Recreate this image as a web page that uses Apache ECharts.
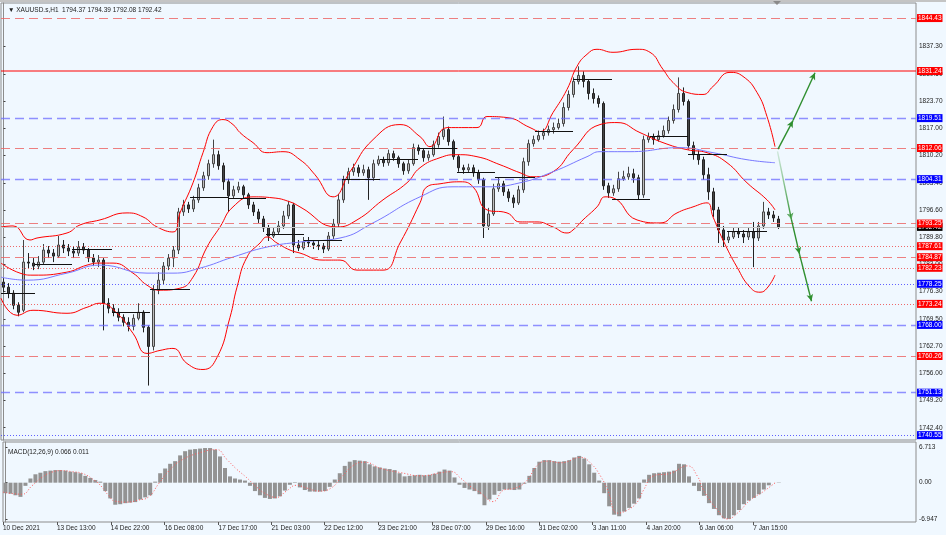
<!DOCTYPE html>
<html>
<head>
<meta charset="utf-8">
<title>XAUUSD.s H1</title>
<script src="https://cdn.jsdelivr.net/npm/echarts@6.0.0/dist/echarts.min.js"></script>
<style>
html, body { margin: 0; padding: 0; background: #f0f8ff; }
#chart { width: 946px; height: 535px; }
</style>
</head>
<body>
<div id="chart"></div>
<script>
// price bars, 3 hours each: [open, close, low, high]
var candles = [
[1778.65,1777.40,1776.15,1779.65],[1777.40,1775.90,1774.65,1778.40],[1775.90,1772.90,1771.90,1776.65],[1772.90,1771.15,1770.15,1773.65],
[1771.65,1783.65,1771.15,1789.15],[1783.65,1783.40,1782.15,1785.90],[1783.40,1782.65,1781.65,1784.65],[1782.65,1783.65,1781.90,1785.15],
[1783.65,1786.65,1783.15,1788.15],[1786.65,1785.90,1784.65,1787.65],[1785.90,1785.15,1783.65,1786.90],[1785.15,1787.90,1784.65,1790.15],
[1787.90,1787.15,1785.90,1789.15],[1787.15,1786.40,1785.15,1788.15],[1786.40,1785.90,1784.65,1787.65],[1785.90,1787.40,1785.15,1788.90],
[1787.40,1786.65,1785.65,1788.40],[1786.65,1784.65,1783.65,1787.15],[1784.65,1783.65,1782.65,1785.65],[1783.65,1784.15,1782.40,1785.40],
[1784.15,1773.40,1766.65,1784.65],[1773.40,1772.15,1770.90,1774.65],[1772.15,1771.15,1770.15,1773.15],[1771.15,1769.90,1768.90,1772.15],
[1769.90,1768.65,1767.65,1770.65],[1768.65,1767.65,1766.40,1769.90],[1767.65,1769.65,1766.65,1770.65],[1769.65,1771.15,1769.15,1773.40],
[1771.15,1767.40,1766.15,1771.65],[1767.40,1762.65,1752.90,1767.90],[1762.65,1776.65,1761.65,1777.90],[1776.65,1779.15,1775.65,1781.15],
[1779.15,1782.65,1778.15,1783.65],[1782.65,1784.65,1781.65,1785.65],[1784.65,1786.65,1782.40,1787.65],[1786.65,1796.15,1785.65,1797.15],
[1796.15,1797.90,1795.15,1799.15],[1797.90,1796.90,1795.90,1798.65],[1796.90,1799.15,1796.15,1800.15],[1799.15,1802.15,1798.40,1803.15],
[1802.15,1805.15,1801.40,1806.15],[1805.15,1808.15,1804.15,1809.15],[1808.15,1810.40,1807.15,1814.15],[1810.40,1807.65,1806.65,1811.40],
[1807.65,1803.65,1801.65,1808.40],[1803.65,1800.15,1796.15,1804.40],[1800.15,1801.65,1799.40,1802.65],[1801.65,1802.40,1800.90,1803.65],
[1802.40,1800.40,1799.40,1802.90],[1800.40,1797.90,1796.90,1800.90],[1797.90,1796.15,1795.15,1798.65],[1796.15,1794.40,1793.40,1796.90],
[1794.40,1792.15,1791.15,1795.15],[1792.15,1790.15,1788.90,1792.90],[1790.15,1791.15,1789.65,1792.15],[1791.15,1792.65,1790.40,1793.90],
[1792.65,1795.15,1791.90,1796.40],[1795.15,1797.90,1794.40,1798.90],[1797.90,1787.90,1785.90,1798.40],[1787.90,1787.15,1786.40,1789.15],
[1787.15,1788.65,1786.65,1789.90],[1788.65,1788.40,1787.40,1789.90],[1788.40,1787.90,1786.90,1789.15],[1787.90,1787.65,1786.65,1788.90],
[1787.65,1786.90,1785.90,1788.40],[1786.90,1790.15,1786.40,1791.15],[1790.15,1793.15,1789.40,1794.40],[1793.15,1799.15,1792.40,1800.65],
[1799.15,1804.15,1798.40,1805.15],[1804.15,1806.15,1803.15,1807.15],[1806.15,1807.15,1805.15,1808.15],[1807.15,1805.90,1804.90,1807.90],
[1805.90,1806.65,1805.15,1807.90],[1806.65,1804.65,1799.15,1807.40],[1804.65,1808.15,1803.90,1809.15],[1808.15,1809.15,1807.65,1810.15],
[1809.15,1808.40,1807.40,1809.90],[1808.40,1810.65,1807.65,1811.65],[1810.65,1809.65,1808.90,1811.40],[1809.65,1808.15,1807.15,1810.15],
[1808.15,1806.40,1805.40,1808.65],[1806.40,1808.15,1805.65,1809.15],[1808.15,1812.15,1807.65,1813.15],[1812.15,1811.40,1810.40,1812.90],
[1811.40,1809.65,1808.65,1811.90],[1809.65,1810.40,1808.90,1811.40],[1810.40,1812.90,1809.90,1813.90],[1812.90,1814.90,1812.15,1815.90],
[1814.90,1816.65,1814.15,1819.90],[1816.65,1813.65,1812.65,1817.40],[1813.65,1809.90,1809.15,1814.15],[1809.90,1807.15,1806.15,1810.40],
[1807.15,1806.65,1805.65,1807.90],[1806.65,1807.15,1805.90,1808.15],[1807.15,1805.90,1804.90,1807.90],[1805.90,1804.15,1803.15,1806.65],
[1804.15,1792.65,1789.65,1804.65],[1792.65,1795.65,1791.65,1797.15],[1795.65,1801.90,1795.15,1803.15],[1801.90,1803.15,1801.15,1804.65],
[1803.15,1801.15,1800.15,1803.90],[1801.15,1799.65,1798.65,1801.90],[1799.65,1798.40,1797.15,1800.40],[1798.40,1801.65,1797.90,1802.65],
[1801.65,1808.65,1800.90,1809.65],[1808.65,1813.15,1807.65,1814.15],[1813.15,1814.15,1812.40,1815.15],[1814.15,1815.15,1813.65,1816.40],
[1815.15,1815.90,1814.15,1816.90],[1815.90,1816.65,1815.15,1817.65],[1816.65,1817.15,1815.65,1818.40],[1817.15,1818.15,1816.65,1819.40],
[1818.15,1822.15,1817.40,1823.40],[1822.15,1825.40,1821.40,1826.40],[1825.40,1828.65,1824.65,1829.65],[1828.65,1830.15,1827.90,1832.40],
[1830.15,1828.65,1827.15,1831.15],[1828.65,1825.65,1824.15,1829.15],[1825.65,1824.40,1823.15,1826.90],[1824.40,1823.15,1822.15,1825.15],
[1823.15,1802.65,1801.65,1823.65],[1802.65,1800.90,1799.65,1803.40],[1800.90,1801.90,1800.15,1802.90],[1801.90,1804.40,1801.15,1806.15],
[1804.40,1804.90,1803.90,1806.40],[1804.90,1805.65,1804.15,1807.40],[1805.65,1804.65,1803.40,1806.90],[1804.65,1800.40,1799.15,1805.40],
[1800.40,1814.15,1799.65,1815.15],[1814.15,1814.90,1813.40,1815.90],[1814.90,1814.15,1812.90,1815.65],[1814.15,1815.15,1813.65,1816.40],
[1815.15,1816.40,1814.65,1817.65],[1816.40,1818.90,1815.65,1819.90],[1818.90,1821.65,1818.15,1822.90],[1821.65,1825.65,1820.90,1829.65],
[1825.65,1823.65,1822.65,1827.15],[1823.65,1812.65,1811.65,1824.15],[1812.65,1810.40,1809.15,1813.65],[1810.40,1809.15,1807.90,1811.40],
[1809.15,1805.40,1804.15,1809.90],[1805.40,1801.15,1799.15,1807.15],[1801.15,1796.65,1794.90,1802.15],[1796.65,1791.65,1788.40,1797.40],
[1791.65,1789.15,1787.40,1792.65],[1789.15,1789.90,1788.40,1791.40],[1789.90,1791.15,1789.40,1792.15],[1791.15,1790.65,1789.65,1792.15],
[1790.65,1789.90,1788.40,1791.65],[1789.90,1791.15,1789.15,1792.15],[1791.15,1789.65,1782.40,1793.65],[1789.65,1792.65,1788.90,1793.65],
[1792.65,1796.15,1791.90,1798.65],[1796.15,1795.40,1794.40,1797.15],[1795.40,1794.65,1793.65,1796.40],[1794.37,1792.42,1791.90,1795.15]
];

// bollinger bands + blue MA, sampled as [bar, price]
var bbUpper = [[-0.5,1792.40],[1.9,1792.65],[5.3,1789.15],[6.7,1789.65],[12.7,1790.90],[15.3,1792.90],[19.3,1794.15],[24.7,1795.90],
[27.9,1794.90],[30.7,1792.40],[33.9,1791.15],[35.3,1795.90],[37.9,1803.40],[39.9,1810.90],[41.9,1817.40],[43.9,1819.15],[45.9,1817.90],
[47.3,1815.90],[49.9,1813.40],[52.7,1810.90],[55.9,1811.15],[59.3,1809.15],[62.3,1805.40],[65.9,1799.90],[69.3,1806.15],[73.9,1814.15],
[79.3,1817.90],[83.3,1814.90],[85.3,1812.40],[88.7,1817.15],[94.7,1817.15],[96.7,1819.90],[100.7,1819.65],[105.3,1817.15],[107.3,1816.15],
[109.9,1820.90],[112.7,1826.65],[114.7,1832.40],[116.7,1835.40],[118.7,1836.65],[121.9,1835.90],[126.7,1836.65],[129.3,1835.90],
[131.9,1831.65],[133.9,1828.40],[136.7,1825.90],[139.9,1825.40],[141.9,1827.40],[145.3,1830.90],[147.9,1829.90],[150.7,1825.90],
[152.7,1819.90],[154.3,1812.40]];
var bbMiddle = [[-0.5,1783.40],[3.3,1780.90],[5.9,1780.40],[12.7,1781.15],[16.7,1782.90],[19.3,1783.40],[21.9,1783.40],[25.9,1780.90],
[28.7,1777.90],[31.3,1776.65],[35.3,1777.15],[37.9,1779.90],[40.7,1787.40],[43.3,1792.40],[45.9,1797.40],[49.9,1799.90],[53.9,1799.65],
[57.3,1798.65],[59.3,1797.40],[66.7,1792.40],[70.7,1794.15],[75.9,1799.15],[80.7,1803.40],[83.3,1807.15],[87.3,1809.65],[90.7,1810.40],
[94.7,1809.90],[99.3,1807.90],[103.3,1805.90],[105.9,1804.90],[109.9,1806.15],[113.9,1811.65],[119.3,1817.90],[122.7,1818.40],
[127.3,1815.90],[131.9,1813.40],[136.7,1811.65],[140.7,1810.90],[144.7,1808.40],[148.7,1803.40],[152.7,1799.15],[154.3,1796.65]];
var bbLower = [[-0.5,1774.65],[2.7,1770.40],[5.9,1771.65],[12.7,1770.90],[16.7,1772.40],[19.3,1773.40],[22.7,1770.90],[25.9,1765.90],
[28.7,1760.90],[31.3,1761.65],[33.9,1762.15],[36.7,1758.40],[39.9,1756.90],[42.7,1759.90],[45.3,1769.90],[46.7,1777.40],[48.7,1784.90],
[51.3,1788.40],[52.7,1789.90],[54.7,1788.40],[57.3,1786.65],[59.3,1785.90],[63.9,1784.15],[67.3,1784.15],[70.7,1781.65],[75.9,1781.65],
[79.3,1788.40],[83.3,1798.40],[84.7,1802.40],[87.3,1803.15],[91.3,1803.65],[93.9,1802.40],[96.7,1796.65],[100.7,1795.90],[103.3,1793.65],
[106.7,1793.65],[109.9,1792.40],[112.7,1790.90],[113.9,1791.65],[115.9,1794.15],[118.7,1797.40],[120.3,1799.90],[121.9,1799.65],
[126.7,1794.15],[131.3,1793.40],[134.7,1795.90],[137.9,1797.40],[140.7,1798.40],[141.9,1794.90],[143.9,1789.15],[146.7,1782.40],
[149.3,1777.40],[151.3,1776.15],[152.7,1777.15],[154.3,1780.40]];
var maBlue = [[-0.5,1779.90],[4.7,1779.15],[12.7,1780.90],[19.3,1782.90],[28.7,1780.90],[33.9,1780.90],[39.3,1782.15],[45.9,1784.90],
[52.7,1787.40],[59.3,1788.65],[67.3,1789.65],[73.9,1793.40],[83.3,1799.90],[89.9,1802.40],[96.7,1802.40],[103.3,1803.40],[109.9,1806.15],
[116.7,1809.90],[119.3,1811.15],[125.3,1811.15],[135.3,1812.15],[141.9,1810.90],[148.7,1809.15],[154.3,1808.40]];

// daily open segments: [from bar, to bar, price]
var dayOpens = [[-0.5,6.3,1775.90],[6.3,13.7,1783.15],[13.7,21.7,1786.90],[21.7,29.3,1771.15],[29.3,37.3,1776.90],
[37.3,44.9,1799.90],[44.9,52.5,1799.65],[52.5,60.1,1790.65],[60.1,67.7,1789.15],[67.7,75.3,1804.40],[75.3,82.9,1809.15],
[82.9,90.7,1811.90],[90.7,98.3,1806.15],[98.3,106.3,1804.90],[106.3,113.9,1816.15],[113.9,121.7,1829.15],[121.7,129.3,1799.40],
[129.3,136.9,1814.90],[136.9,144.7,1810.40],[144.7,152.7,1791.40]];

// horizontal levels
var redSolid = 1831.24;
var redDashed = [1844.43, 1812.06, 1793.25, 1784.87, 1760.26];
var redDotted = [1787.61, 1782.23, 1773.24];
var blueDashed = [1819.51, 1804.31, 1768.00, 1751.13];
var blueDotted = [1778.25, 1740.55];
var lastPrice = 1792.42;

// forecast arrows [bar, price]
var arrowUp = [[154.9,1811.8],[157.9,1818.9],[162.3,1830.8]];
var arrowDown = [[154.8,1811.2],[157.6,1794.15],[159.2,1785.65],[161.6,1773.9]];

// MACD(12,26,9)
var macdHist = [-2.0,-2.1,-2.4,-2.7,-0.6,0.8,1.6,1.9,2.2,2.3,
2.4,2.4,2.3,2.1,2.0,1.8,1.3,0.9,0.5,0.2,
-1.6,-3.0,-4.2,-4.1,-3.9,-3.8,-3.7,-3.2,-2.8,-2.4,
0.2,1.8,2.7,3.6,4.1,5.2,6.0,6.3,6.4,6.5,
6.6,6.6,6.3,5.0,2.8,1.2,0.8,0.6,0.4,-0.6,
-1.6,-2.4,-2.9,-3.1,-3.0,-2.6,-1.5,-0.4,0.1,-0.9,
-1.4,-1.7,-1.7,-1.7,-1.6,-0.8,0.6,1.8,3.2,4.0,
4.3,4.2,4.1,3.5,3.1,2.9,2.7,2.6,2.4,1.8,
1.2,1.3,1.4,1.5,1.4,1.5,1.7,2.1,2.5,2.3,
1.0,-0.4,-1.0,-1.3,-1.6,-2.2,-4.3,-3.2,-2.3,-1.6,
-1.3,-1.3,-1.4,-1.3,-0.2,1.3,2.8,4.0,4.3,4.3,
4.1,4.0,4.1,4.3,4.8,5.1,4.6,3.5,1.9,0.4,
-2.0,-4.5,-6.1,-6.4,-5.5,-4.8,-4.0,-3.0,0.6,1.5,
1.8,1.9,2.0,2.1,2.3,3.6,3.5,1.2,-0.6,-1.6,
-2.5,-3.9,-5.0,-6.2,-6.8,-6.9,-6.2,-5.2,-4.1,-3.4,
-2.9,-2.2,-1.3,-0.5,0.0,0.066];
var macdSignal = [[-0.5,-1.8],[3.3,-2.2],[5.3,-0.6],[7.3,1.0],[9.3,2.0],[11.3,2.3],[13.3,2.1],[15.3,1.8],[17.9,0.4],[19.3,-0.8],
[20.7,-2.5],[21.9,-3.5],[24.3,-3.7],[26.7,-3.3],[28.7,-2.7],[30.7,-0.2],[32.7,2.2],[35.3,4.3],[39.3,5.8],[42.3,6.3],[44.3,4.5],
[46.3,2.6],[48.3,1.0],[50.3,-0.8],[52.3,-2.2],[54.3,-2.8],[56.3,-1.6],[58.3,-0.5],[60.3,-1.0],[62.9,-1.6],[65.3,-1.0],[67.3,1.0],
[69.9,3.4],[71.9,3.9],[75.3,2.7],[79.3,1.9],[83.3,1.3],[87.3,1.9],[89.3,2.1],[91.3,0.8],[93.3,-0.8],[95.3,-2.0],[97.7,-3.6],
[99.9,-1.4],[101.9,-1.1],[104.3,0.2],[106.7,3.4],[108.7,4.1],[111.3,3.8],[115.3,4.8],[117.3,3.7],[119.3,1.2],[120.7,-1.4],
[122.7,-5.8],[124.7,-5.2],[126.7,-3.6],[127.9,-1.4],[129.9,1.3],[133.3,1.8],[136.7,3.2],[138.7,1.2],[139.9,-1.4],[142.7,-5.2],
[144.7,-6.9],[146.7,-5.8],[149.3,-3.3],[151.9,-1.7],[154.3,0.011]];

// axis labels
var priceTicks = [1742.40,1749.20,1756.00,1762.70,1769.50,1776.30,1783.00,1789.80,1796.60,1803.40,1810.20,1817.00,1823.70,1830.50,1837.30];
var macdTicks = [6.713, 0, -6.947];
var timeLabels = ['10 Dec 2021','13 Dec 13:00','14 Dec 22:00','16 Dec 08:00','17 Dec 17:00','21 Dec 03:00','22 Dec 12:00',
'23 Dec 21:00','28 Dec 07:00','29 Dec 16:00','31 Dec 02:00','3 Jan 11:00','4 Jan 20:00','6 Jan 06:00','7 Jan 15:00'];
var timeLabelBars = [-0.5,10.3,21.1,31.9,42.7,53.3,63.9,74.7,85.5,96.3,106.9,117.7,128.5,139.1,149.9];

var N = 183; // slots across the plot incl. empty space on the right
var cats = [];
for (var i = 0; i < N; i++) cats.push(i);

var FONT = 'Liberation Sans, Arial, DejaVu Sans, sans-serif';

function boxLabel(price, box) {
    return {
        show: true, position: 'end', distance: 1,
        formatter: price.toFixed(2),
        color: '#fff', backgroundColor: box,
        padding: [1, 1, 0, 1], fontSize: 6.5, lineHeight: 7, fontFamily: FONT
    };
}

function level(price, lineColor, type, width, box) {
    return {
        yAxis: price,
        lineStyle: { color: lineColor, type: type, width: width },
        label: boxLabel(price, box)
    };
}

var levelLines = [level(lastPrice, '#c4c4c4', 'solid', 1, '#000')];
for (var p of redDashed) levelLines.push(level(p, 'rgba(236,96,96,0.8)', [9, 5], 1, '#ff0000'));
for (var p of redDotted) levelLines.push(level(p, 'rgba(236,80,80,0.85)', [1, 2], 1, '#ff0000'));
for (var p of blueDashed) levelLines.push(level(p, 'rgba(110,110,255,0.75)', [9, 5], 1.3, '#0000ff'));
for (var p of blueDotted) levelLines.push(level(p, 'rgba(70,70,255,0.85)', [1, 2], 1, '#0000ff'));
// only the box for the solid one, the line itself is a normal series below
levelLines.push({ yAxis: redSolid, lineStyle: { color: 'rgba(0,0,0,0)', width: 0 }, label: boxLabel(redSolid, '#ff0000') });

var dayLines = dayOpens.map(function (d) {
    return [{ coord: [d[0], d[2]] }, { coord: [d[1], d[2]] }];
});

// arrows, one markLine piece per leg with a head at its end
var arrowLines = [];
function addArrow(pts, fadeFirst) {
    for (var k = 0; k < pts.length - 1; k++) {
        var col = '#2f8f2f';
        if (fadeFirst && k === 0) {
            col = new echarts.graphic.LinearGradient(0, 0, 0, 1, [
                { offset: 0, color: 'rgba(60,160,60,0.15)' },
                { offset: 1, color: '#2f8f2f' }
            ]);
        }
        arrowLines.push([
            { coord: pts[k], symbol: 'none' },
            { coord: pts[k + 1], symbol: 'arrow', symbolSize: [5, 7], lineStyle: { color: col, width: 1.4, type: 'solid' } }
        ]);
    }
}
addArrow(arrowUp, false);
addArrow(arrowDown, true);

function bandLine(data, color) {
    return {
        type: 'line', xAxisIndex: 1, yAxisIndex: 0, data: data,
        smooth: true, symbol: 'none', silent: true, z: 3,
        lineStyle: { color: color, width: 1 }
    };
}

var myChart = echarts.init(document.getElementById('chart'));
var option = {
    animation: false,
    backgroundColor: '#f0f8ff',
    textStyle: { fontFamily: FONT },
    title: [{
        text: '\u25BC XAUUSD.s,H1  1794.37 1794.39 1792.08 1792.42',
        left: 3, top: 2,
        textStyle: { fontSize: 6.5, fontWeight: 'normal', color: '#222', fontFamily: FONT }
    }, {
        text: 'MACD(12,26,9) 0.066 0.011',
        left: 3, top: 444,
        textStyle: { fontSize: 6.5, fontWeight: 'normal', color: '#222', fontFamily: FONT }
    }],
    graphic: [
        { type: 'rect', shape: { x: 0, y: 0, width: 946, height: 2 }, style: { fill: '#c4c4c4' }, silent: true },
        { type: 'polygon', shape: { points: [[773, 1], [781, 1], [777, 5]] }, style: { fill: '#8a8a8a' }, silent: true }
    ],
    grid: [
        { left: 1, top: 3, width: 915, height: 437, show: true, borderColor: '#8c8c8c', borderWidth: 1 },
        { left: 1, top: 442, width: 915, height: 80, show: true, borderColor: '#8c8c8c', borderWidth: 1 }
    ],
    xAxis: [
        { type: 'category', gridIndex: 0, data: cats, show: false },
        { type: 'value', gridIndex: 0, min: -0.5, max: N - 0.5, show: false },
        { type: 'category', gridIndex: 1, data: cats, show: false },
        {
            type: 'value', gridIndex: 1, min: -0.5, max: N - 0.5, position: 'bottom',
            splitLine: { show: false },
            axisLine: { show: false },
            axisTick: { show: true, customValues: timeLabelBars, length: 3, lineStyle: { color: '#555' } },
            axisLabel: {
                customValues: timeLabelBars, align: 'left', margin: 3,
                fontSize: 6.5, color: '#222', fontFamily: FONT,
                formatter: function (v) {
                    var best = 0;
                    for (var k = 1; k < timeLabelBars.length; k++) {
                        if (Math.abs(timeLabelBars[k] - v) < Math.abs(timeLabelBars[best] - v)) best = k;
                    }
                    return timeLabels[best];
                }
            }
        }
    ],
    yAxis: [{
        type: 'value', gridIndex: 0, position: 'right', min: 1739.34, max: 1848.18,
        splitLine: { show: false },
        axisLine: { show: true, lineStyle: { color: '#8c8c8c' } },
        axisTick: { show: true, customValues: priceTicks, length: 2, lineStyle: { color: '#444' } },
        axisLabel: {
            customValues: priceTicks, margin: 3, fontSize: 6.5, color: '#222', fontFamily: FONT,
            formatter: function (v) { return v.toFixed(2); }
        }
    }, {
        type: 'value', gridIndex: 1, position: 'right', min: -7.49, max: 7.75,
        splitLine: { show: false },
        axisLine: { show: true, lineStyle: { color: '#8c8c8c' } },
        axisTick: { show: true, customValues: macdTicks, length: 2, lineStyle: { color: '#444' } },
        axisLabel: {
            customValues: macdTicks, margin: 3, fontSize: 6.5, color: '#222', fontFamily: FONT,
            formatter: function (v) { return v === 0 ? '0.00' : String(v); }
        }
    }],
    series: [{
        // horizontal levels live on their own empty series
        name: 'levels',
        type: 'line',
        xAxisIndex: 1, yAxisIndex: 0,
        data: [],
        silent: true,
        z: 1,
        markLine: { symbol: ['none', 'none'], silent: true, animation: false, data: levelLines }
    }, {
        name: 'resistance',
        type: 'line',
        xAxisIndex: 1, yAxisIndex: 0,
        data: [[-0.5, redSolid], [N - 0.5, redSolid]],
        symbol: 'none', silent: true, z: 4,
        itemStyle: { color: '#ff0000' },
        lineStyle: { color: '#ff0000', width: 1, type: 'solid' }
    }, {
        name: 'XAUUSD.s',
        type: 'candlestick',
        xAxisIndex: 0, yAxisIndex: 0,
        data: candles,
        barWidth: 3,
        silent: true,
        z: 2,
        itemStyle: {
            color: '#bdbdbd', color0: '#454545',
            borderColor: '#454545', borderColor0: '#222', borderWidth: 1
        }
    },
    bandLine(bbUpper, '#ff0000'),
    Object.assign(bandLine(bbMiddle, '#ff0000'), {
        markLine: {
            symbol: ['none', 'none'], silent: true, animation: false,
            lineStyle: { color: '#111', width: 1, type: 'solid' },
            label: { show: false },
            data: dayLines
        }
    }),
    bandLine(bbLower, '#ff0000'),
    Object.assign(bandLine(maBlue, '#7878ff'), {
        markLine: {
            silent: true, animation: false,
            lineStyle: { color: '#2f8f2f', width: 1.4, type: 'solid' },
            label: { show: false },
            data: arrowLines
        }
    }),
    {
        name: 'MACD',
        type: 'bar',
        xAxisIndex: 2, yAxisIndex: 1,
        data: macdHist,
        barWidth: 4,
        silent: true,
        itemStyle: { color: '#939393' }
    }, {
        name: 'Signal',
        type: 'line',
        xAxisIndex: 3, yAxisIndex: 1,
        data: macdSignal,
        smooth: true, symbol: 'none', silent: true,
        lineStyle: { color: '#ff5a5a', width: 1, type: [1, 2] }
    }]
};

myChart.setOption(option);
</script>
</body>
</html>
